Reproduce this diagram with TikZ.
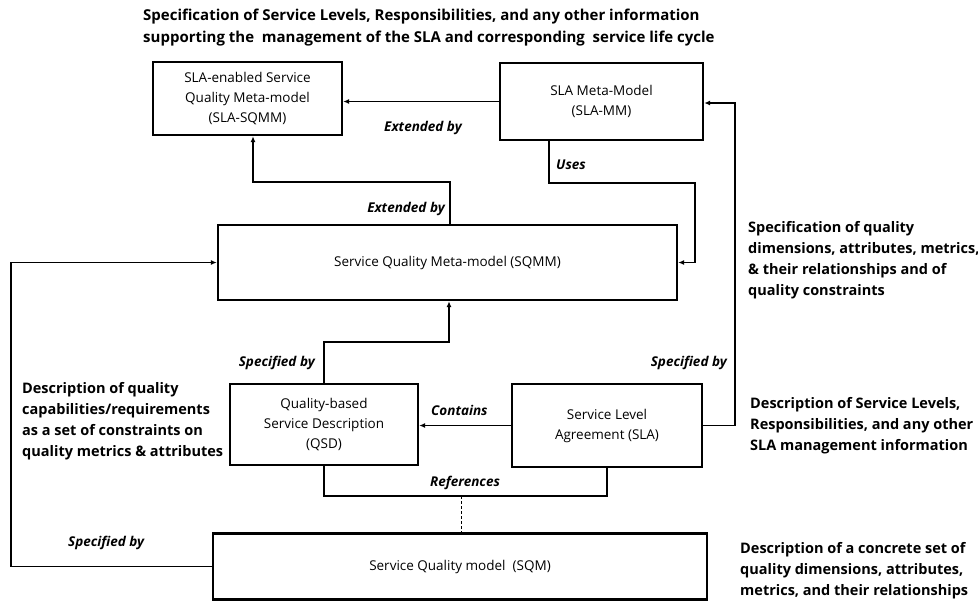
\documentclass[tikz,border=0pt]{standalone}
\usepackage{fontspec}
\setmainfont{Open Sans}
\usetikzlibrary{arrows.meta}

\tikzset{
    box/.style={draw, line width=2.4pt, align=center, inner sep=2pt,
        font=\fontsize{13.5}{20}\selectfont},
    conn/.style={line width=1.2pt, -{Latex[length=6pt,width=5pt]}},
    plain/.style={line width=1.2pt},
    lbl/.style={font=\fontsize{13.5}{15}\selectfont\bfseries\itshape, inner sep=0pt},
    note/.style={align=left, inner sep=0pt, font=\fontsize{14.5}{21}\selectfont\bfseries}
}

\begin{document}
\begin{tikzpicture}[x=1pt, y=-1pt]
\useasboundingbox (0,0) rectangle (978,606);

\node[box, minimum width=189pt, minimum height=73pt] (slasqmm) at (247.5,98.5) {SLA-enabled Service\\Quality Meta-model\\(SLA-SQMM)};
\node[box, minimum width=203pt, minimum height=77pt] (slamm) at (601.5,101.5) {SLA Meta-Model\\(SLA-MM)};
\node[box, minimum width=459pt, minimum height=75pt] (sqmm) at (447.5,262.5) {Service Quality Meta-model (SQMM)};
\node[box, minimum width=188pt, minimum height=81pt] (qsd) at (324,424.5) {Quality-based\\Service Description\\(QSD)};
\node[box, minimum width=190pt, minimum height=83pt] (sla) at (607,425.5) {Service Level\\Agreement (SLA)};
\node[box, minimum width=494pt, minimum height=66pt] (sqm) at (460,566.5) {Service Quality model\ \ (SQM)};

\coordinate (ext) at (450,182);
\coordinate (ext2) at (253,182);
\coordinate (use1) at (549,183);
\coordinate (use2) at (695,183);
\coordinate (spl) at (11,568);
\coordinate (sp1) at (324,342);
\coordinate (sp2) at (449,342);
\coordinate (sps) at (735,103);
\coordinate (ref) at (461,496);

\draw[conn] (slamm.west) -- (slamm.west -| slasqmm.east);
\draw[conn] (sqmm.north -| ext) -- (ext) -- (ext2) -- (ext2 |- slasqmm.south);
\draw[conn] (slamm.south -| use1) -- (use1) -- (use2) |- (sqmm.east);
\draw[conn] (sqm.west) -- (sqm.west -| spl) |- (sqmm.west);
\draw[conn] (qsd.north -| sp1) -- (sp1) -- (sp2) -- (sp2 |- sqmm.south);
\draw[conn] (sla.west) -- (sla.west -| qsd.east);
\draw[conn] (sla.east) -- (sla.east -| sps) -- (sps) -- (sps -| slamm.east);
\draw[plain] (qsd.south) |- (ref) -| (sla.south);
\draw[densely dashed, line width=0.6pt] (ref) -- (ref |- sqm.north);

\node[lbl] (lext1) at (423,128) {Extended by};
\node[lbl, anchor=east] (lext2) at (445,209) {Extended by};
\node[lbl, anchor=west] (luses) at (556,165) {Uses};
\node[lbl, anchor=east] (lspec1) at (315,363) {Specified by};
\node[lbl, anchor=east] (lspec2) at (727,363) {Specified by};
\node[lbl, anchor=west] (lcont) at (431,410) {Contains};
\node[lbl] (lref) at (465,483) {References};
\node[lbl, anchor=west] (lspec3) at (68,543) {Specified by};

\node[note, anchor=west, font=\fontsize{15}{22}\selectfont\bfseries] (ntop) at (143,28) {Specification of Service Levels, Responsibilities, and any other information\\supporting the\ \ management of the SLA and corresponding\ \ service life cycle};
\node[note, anchor=west] (nqual) at (748,260) {Specification of quality\\dimensions, attributes, metrics,\\\& their relationships and of\\quality constraints};
\node[note, anchor=west] (nsla) at (750,426) {Description of Service Levels,\\Responsibilities, and any other\\SLA management information};
\node[note, anchor=west] (nqsd) at (22,421) {Description of quality\\capabilities/requirements\\as a set of constraints on\\quality metrics \& attributes};
\node[note, anchor=west] (nsqm) at (740,571) {Description of a concrete set of\\quality dimensions, attributes,\\metrics, and their relationships};
\end{tikzpicture}
\end{document}
